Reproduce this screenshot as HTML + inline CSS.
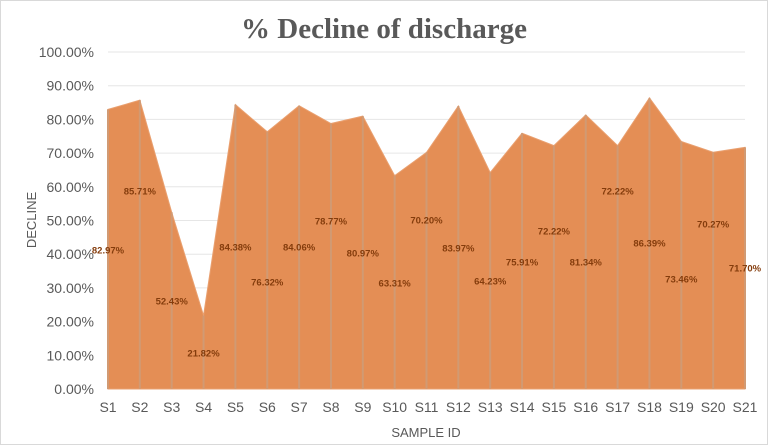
<!DOCTYPE html>
<html><head><meta charset="utf-8"><style>
body{margin:0;background:#fff;}
svg{display:block;font-family:"Liberation Sans",sans-serif;}
</style></head><body>
<svg id="c" width="768" height="445">
<rect x="0.5" y="0.5" width="767" height="444" fill="#fff" stroke="#d9d9d9"/>
<text x="384" y="38" text-anchor="middle" font-family="Liberation Serif,serif" font-weight="bold" font-size="29" fill="#595959">% Decline of discharge</text>
<text transform="translate(36,220) rotate(-90)" text-anchor="middle" font-size="13" fill="#595959">DECLINE</text>
<text x="426" y="437" text-anchor="middle" font-size="13" fill="#595959">SAMPLE ID</text>
<g id="grid"></g><g id="area"></g><g id="labels"></g>
</svg>
<script>
const categories=["S1","S2","S3","S4","S5","S6","S7","S8","S9","S10","S11","S12","S13","S14","S15","S16","S17","S18","S19","S20","S21"];
const values=[82.97,85.71,52.43,21.82,84.38,76.32,84.06,78.77,80.97,63.31,70.20,83.97,64.23,75.91,72.22,81.34,72.22,86.39,73.46,70.27,71.70];
const yTicks=[0,10,20,30,40,50,60,70,80,90,100];
// label placement (style only): vertical pixel centre of each data label, as placed in the source chart
const labelLayoutY=[250,191,301,353,247,282,247,221,253,283,220,248,281,262,231,262,191,243,279,224,268];
const NS="http://www.w3.org/2000/svg";
const x0=108,x1=745,y0=389,yTop=52;
const xs=i=>x0+i*(x1-x0)/(categories.length-1);
const ys=v=>y0-(v/100)*(y0-yTop);
const svg=document.getElementById('c');
function mk(t,a,p){const e=document.createElementNS(NS,t);for(const k in a)e.setAttribute(k,a[k]);(p||svg).appendChild(e);return e;}
const g=document.getElementById('grid');
yTicks.forEach(t=>{
 const l=mk('line',{x1:x0,x2:x1,y1:ys(t),y2:ys(t),stroke:'#e6e6e6'},g);
 
 
 const tx=mk('text',{x:94,y:ys(t)+5,'text-anchor':'end','font-size':14,fill:'#595959'},g);
 tx.textContent=t.toFixed(2)+'%';
 
 
});
const a=document.getElementById('area');
let d='M'+xs(0)+','+y0;
values.forEach((v,i)=>d+=' L'+xs(i)+','+ys(v));
d+=' L'+xs(values.length-1)+','+y0+' Z';
const p=mk('path',{d:d,fill:'#e48e55',stroke:'#e9a070','stroke-width':1},a);


const lb=document.getElementById('labels');
values.forEach((v,i)=>{
 const l=mk('line',{x1:xs(i),x2:xs(i),y1:ys(v),y2:y0,stroke:'#d19a73','stroke-width':2},lb);
 
 
 const ly=Math.min(labelLayoutY[i],y0-8);
 const t=mk('text',{x:xs(i),y:ly+3.5,'text-anchor':'middle','font-size':9.5,'font-weight':'bold',fill:'#843c0c'},lb);
 t.textContent=v.toFixed(2)+'%';
 
 
 const c=mk('text',{x:xs(i),y:412,'text-anchor':'middle','font-size':14,fill:'#595959'},lb);
 c.textContent=categories[i];
 
 
});
</script>
</body></html>
